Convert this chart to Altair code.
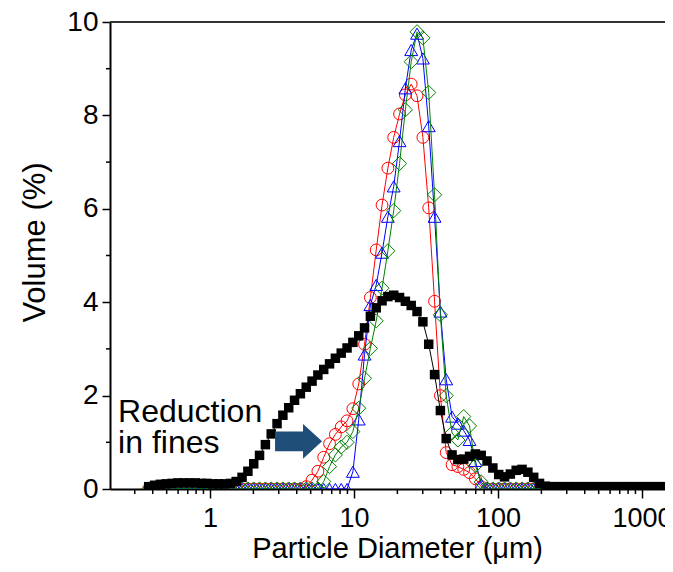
import altair as alt
import pandas as pd

# Particle size channels (um)
size_um = [0.375, 0.412, 0.452, 0.496, 0.545, 0.598, 0.657, 0.721, 0.791, 0.869,
           0.953, 1.047, 1.149, 1.261, 1.385, 1.520, 1.669, 1.832, 2.011, 2.207,
           2.423, 2.660, 2.920, 3.206, 3.519, 3.863, 4.241, 4.656, 5.111, 5.611,
           6.159, 6.761, 7.422, 8.148, 8.944, 9.819, 10.78, 11.83, 12.99, 14.26,
           15.65, 17.18, 18.86, 20.71, 22.73, 24.95, 27.39, 30.07, 33.01, 36.24,
           39.78, 43.67, 47.94, 52.63, 57.77, 63.42, 69.62, 76.43, 83.90, 92.10,
           101.1, 111.0, 121.8, 133.7, 146.8, 161.2, 176.9, 194.2, 213.2, 234.1,
           256.9, 282.1, 309.6, 339.9, 373.1, 409.6, 449.7, 493.6, 541.9, 594.9,
           653.0, 716.9, 786.9, 863.9, 948.3, 1041, 1143, 1255, 1377, 1512,
           1660, 1822, 2000]

# Black filled squares
vol_black = [0.05, 0.08, 0.10, 0.11, 0.12, 0.13, 0.13, 0.13, 0.13, 0.12,
             0.12, 0.11, 0.11, 0.11, 0.12, 0.16, 0.25, 0.38, 0.54, 0.72,
             0.95, 1.18, 1.40, 1.58, 1.74, 1.90, 2.04, 2.18, 2.31, 2.44,
             2.56, 2.68, 2.80, 2.91, 3.02, 3.14, 3.28, 3.45, 3.70, 3.88,
             4.03, 4.12, 4.15, 4.10, 4.02, 3.93, 3.80, 3.58, 3.10, 2.45,
             1.68, 1.08, 0.73, 0.63, 0.64, 0.70, 0.75, 0.72, 0.60, 0.45,
             0.31, 0.26, 0.32, 0.40, 0.42, 0.36, 0.25, 0.12, 0.06, 0.05,
             0.05, 0.05, 0.05, 0.05, 0.05, 0.05, 0.05, 0.05, 0.05, 0.05,
             0.05, 0.05, 0.05, 0.05, 0.05, 0.05, 0.05, 0.05, 0.05, 0.05,
             0.05, 0.05, 0.05]

# Red open circles
vol_red = [0, 0, 0, 0, 0, 0, 0, 0, 0, 0,
           0, 0, 0, 0, 0, 0, 0, 0, 0, 0,
           0, 0, 0, 0, 0, 0, 0, 0.05, 0.19, 0.38,
           0.68, 0.97, 1.17, 1.33, 1.46, 1.72, 2.25, 3.10, 4.10, 5.12,
           6.08, 6.87, 7.53, 8.03, 8.44, 8.67, 8.42, 7.53, 6.02, 4.02,
           2.00, 0.78, 0.52, 0.48, 0.42, 0.35, 0.22, 0.05, 0, 0,
           0, 0, 0, 0, 0, 0, 0, 0, 0, 0,
           0, 0, 0, 0, 0, 0, 0, 0, 0, 0,
           0, 0, 0, 0, 0, 0, 0, 0, 0, 0,
           0, 0, 0]

# Blue open triangles
vol_blue = [0, 0, 0, 0, 0, 0, 0, 0, 0, 0,
            0, 0, 0, 0, 0, 0, 0, 0, 0, 0,
            0, 0, 0, 0, 0, 0, 0, 0, 0, 0,
            0, 0, 0, 0, 0, 0.37, 1.49, 2.88, 3.94, 4.37,
            5.06, 5.83, 6.48, 7.45, 8.58, 9.40, 9.75, 9.22, 7.77, 5.83,
            3.80, 2.35, 1.55, 1.40, 1.25, 1.05, 0.60, 0.10, 0, 0,
            0, 0, 0, 0, 0, 0, 0, 0, 0, 0,
            0, 0, 0, 0, 0, 0, 0, 0, 0, 0,
            0, 0, 0, 0, 0, 0, 0, 0, 0, 0,
            0, 0, 0]

# Green open diamonds
vol_green = [0, 0, 0, 0, 0, 0, 0, 0, 0, 0,
             0, 0, 0, 0, 0, 0, 0, 0, 0, 0,
             0, 0, 0, 0, 0, 0, 0, 0, 0, 0,
             0.16, 0.48, 0.73, 0.90, 1.00, 1.23, 1.73, 2.37, 3.01, 3.60,
             4.30, 5.10, 5.96, 6.97, 8.12, 9.15, 9.79, 9.66, 8.49, 6.30,
             3.73, 2.00, 1.20, 1.05, 1.55, 1.35, 0.50, 0.15, 0, 0,
             0, 0, 0, 0, 0, 0, 0, 0, 0, 0,
             0, 0, 0, 0, 0, 0, 0, 0, 0, 0,
             0, 0, 0, 0, 0, 0, 0, 0, 0, 0,
             0, 0, 0]

x_major = [1, 10, 100, 1000]
x_minor = [0.3, 0.4, 0.5, 0.6, 0.7, 0.8, 0.9,
           2, 3, 4, 5, 6, 7, 8, 9,
           20, 30, 40, 50, 60, 70, 80, 90,
           200, 300, 400, 500, 600, 700, 800, 900]
y_major = [0, 2, 4, 6, 8, 10]
y_minor = [1, 3, 5, 7, 9]

note_lines = ["Reduction", "in fines"]
note_x = [0.23, 0.23]
note_y = [1.44, 0.77]

arrow_x = [4.12]
arrow_y = [1.02]

FONT = "Liberation Sans"

rows = []
for name, vals in [("red", vol_red), ("blue", vol_blue), ("green", vol_green), ("black", vol_black)]:
    for d, v in zip(size_um, vals):
        rows.append({"size": d, "vol": v, "series": name})
df = pd.DataFrame(rows)

xscale = alt.Scale(type="log", domain=[0.202, 1444], nice=False)
yscale = alt.Scale(domain=[0, 10], nice=False, zero=False)

xaxis = alt.Axis(
    values=x_major,
    labelExpr="'' + datum.value",
    tickSize=9,
    labelPadding=7,
    labelFontSize=27,
    labelOverlap=False,
    labelFlush=False,
    labelBound=False,
    title="Particle Diameter (\u03bcm)",
    titleFontSize=29,
    titleX=287,
    titleY=68,
    titleAnchor="start",
    titleAlign="center",
    titleBaseline="alphabetic",
    domainWidth=2,
    tickWidth=1.5,
    grid=False,
)
yaxis = alt.Axis(
    values=y_major,
    tickSize=8,
    labelPadding=4,
    labelFontSize=28,
    labelOverlap=False,
    labelFlush=False,
    labelBound=False,
    title="Volume (%)",
    titleFontSize=31,
    titleX=-75,
    titleY=220,
    titleAngle=270,
    titleAlign="center",
    titleBaseline="middle",
    domainWidth=2,
    tickWidth=1.5,
    grid=False,
)

X = alt.X("size:Q", scale=xscale, axis=xaxis)
Y = alt.Y("vol:Q", scale=yscale, axis=yaxis)

base = alt.Chart(df)

styles = {
    "red": dict(color="#ff0000", shape="circle", size=140, filled=False),
    "blue": dict(color="#0000ff", shape="triangle-up", size=165, filled=False),
    "green": dict(color="#008000", shape="diamond", size=200, filled=False),
    "black": dict(color="#000000", shape="square", size=90, filled=True),
}

layers = []
for name in ["red", "blue", "green", "black"]:
    st = styles[name]
    sub = base.transform_filter(alt.datum.series == name)
    layers.append(sub.mark_line(color=st["color"], strokeWidth=1, clip=True).encode(x=X, y=Y))
    if st["filled"]:
        layers.append(sub.mark_point(shape=st["shape"], size=st["size"], filled=True,
                                     color=st["color"], opacity=1, clip=True).encode(x=X, y=Y))
    else:
        layers.append(sub.mark_point(shape=st["shape"], size=st["size"], filled=False,
                                     color=st["color"], strokeWidth=1, opacity=1, clip=True).encode(x=X, y=Y))

# minor tick marks (positions through the scales)
xminor_df = pd.DataFrame({"size": x_minor})
xminor = alt.Chart(xminor_df).mark_rule(color="black", strokeWidth=1.5).encode(
    x=X, y=alt.value(467), y2=alt.value(472))
yminor_df = pd.DataFrame({"vol": y_minor})
yminor = alt.Chart(yminor_df).mark_rule(color="black", strokeWidth=1.5).encode(
    y=Y, x=alt.value(0), x2=alt.value(-4))

top_df = pd.DataFrame({"vol": [10]})
top_rule = alt.Chart(top_df).mark_rule(color="#333333", strokeWidth=2).encode(y=Y)

note_df = pd.DataFrame({"size": note_x, "vol": note_y, "t": note_lines})
note = alt.Chart(note_df).mark_text(align="left", baseline="alphabetic", fontSize=32,
                                    font=FONT, color="black").encode(x=X, y=Y, text="t:N")

arrow_df = pd.DataFrame({"size": arrow_x, "vol": arrow_y})
arrow_path = "M -1 -0.42 L 0.19 -0.42 L 0.19 -0.74 L 1 0 L 0.19 0.74 L 0.19 0.42 L -1 0.42 Z"
arrow = alt.Chart(arrow_df).mark_point(shape=arrow_path, size=2209, filled=True,
                                       color="#1F4E79", opacity=1, strokeWidth=0).encode(x=X, y=Y)

chart = alt.layer(top_rule, xminor, yminor, *layers, arrow, note).properties(
    width=555,
    height=467,
    padding={"left": 102, "top": 14, "right": 0, "bottom": 75},
    autosize=alt.AutoSizeParams(type="none"),
).configure_view(strokeWidth=0).configure_axis(
    labelFont=FONT, titleFont=FONT, labelColor="black", titleColor="black",
    domainColor="black", tickColor="black", titleFontWeight="normal",
)

chart.save("out.html", embed_options={"renderer": "svg", "actions": False})
